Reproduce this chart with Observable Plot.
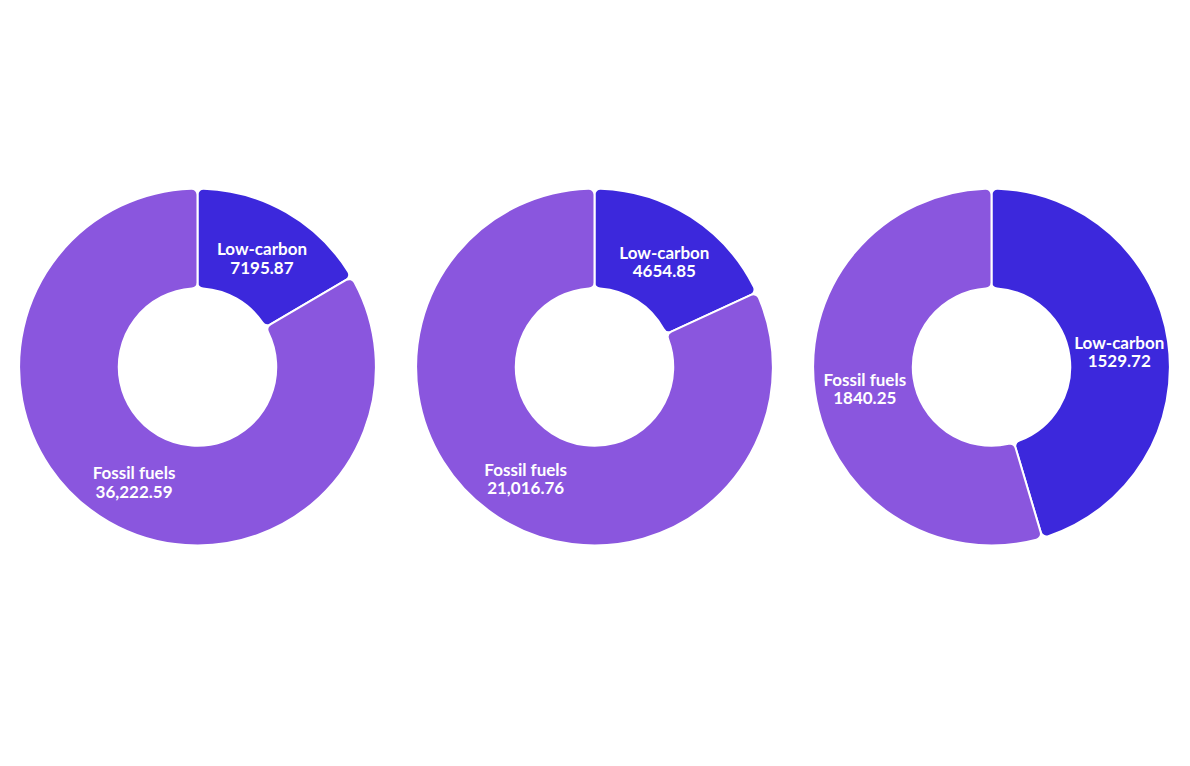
<!DOCTYPE html>
<html>
<head>
<meta charset="utf-8">
<script src="https://cdn.jsdelivr.net/npm/d3@7"></script>
<script src="https://cdn.jsdelivr.net/npm/@observablehq/plot@0.6"></script>
<style>
  html, body { margin: 0; padding: 0; background: #fff; }
  #chart { width: 1190px; }
</style>
</head>
<body>
<div id="chart"></div>
<script>
// ---- data ----
const charts = ["Chart 1", "Chart 2", "Chart 3"];
const categories = ["Low-carbon", "Fossil fuels"];
const lowCarbon = [7195.87, 4654.85, 1529.72];
const fossilFuels = [36222.59, 21016.76, 1840.25];
const colors = ["#3c28dc", "#8a56de"];

// ---- geometry / style constants ----
const W = 1190, H = 734;
const outerR = 179, innerR = 79, midR = 129;
const fmt = v => v >= 10000 ? d3.format(",.2f")(v) : d3.format(".2f")(v);

const pie = d3.pie().sort(null).value(d => d.value);
const rows = [];
charts.forEach((c, k) => {
  const vals = [lowCarbon[k], fossilFuels[k]].map((v, j) => ({chart: c, category: categories[j], value: v}));
  pie(vals).forEach(a => {
    const mid = (a.startAngle + a.endAngle) / 2;
    rows.push({
      ...a.data,
      startAngle: a.startAngle,
      endAngle: a.endAngle,
      lx: midR * Math.sin(mid),
      ly: midR * Math.cos(mid),
      label: a.data.category + "\n" + fmt(a.data.value)
    });
  });
});

const facetStep = 398;
const bandW = facetStep * 0.9;

const chart = Plot.plot({
  width: W,
  height: H,
  marginLeft: 0, marginRight: 0, marginTop: 0, marginBottom: 0,
  fx: {domain: charts, paddingInner: 0.1, paddingOuter: 0.045, axis: null},
  x: {domain: [-bandW / 2, bandW / 2], axis: null},
  y: {domain: [-H / 2, H / 2], axis: null},
  color: {domain: categories, range: colors},
  marks: [
    Plot.dot(rows, {
      fx: "chart",
      x: () => 0,
      y: () => 0,
      fill: "category",
      render(index, scales, values, dimensions, context) {
        const g = d3.create("svg:g");
        const k = scales.x(1) - scales.x(0);
        const arc = d3.arc()
          .innerRadius(innerR * k)
          .outerRadius(outerR * k)
          .cornerRadius(6);
        for (const i of index) {
          const d = rows[i];
          g.append("path")
            .attr("transform", `translate(${values.x[i]},${values.y[i]})`)
            .attr("d", arc({startAngle: d.startAngle, endAngle: d.endAngle}))
            .attr("fill", scales.color(d.category))
            .attr("stroke", "#fff")
            .attr("stroke-width", 2)
            .attr("stroke-linejoin", "round");
        }
        return g.node();
      }
    }),
    Plot.text(rows, {
      fx: "chart",
      x: "lx",
      y: "ly",
      text: "label",
      dy: 3,
      fill: "#fff",
      fontSize: 17,
      fontWeight: 700,
      fontFamily: "Lato",
      lineHeight: 1.1
    })
  ]
});
chart.style.fontFamily = "Lato";
document.getElementById("chart").append(chart);
</script>
</body>
</html>
